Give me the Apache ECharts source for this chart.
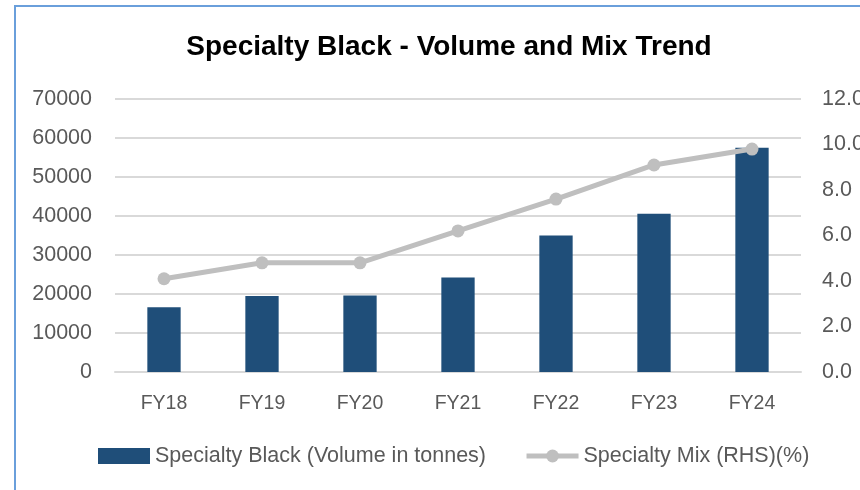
<!DOCTYPE html>
<html><head><meta charset="utf-8">
<script src="https://cdn.jsdelivr.net/npm/echarts@6/dist/echarts.min.js"></script>
<style>html,body{margin:0;padding:0;background:#fff;}#c{width:860px;height:490px;}</style>
</head><body><div id="c"></div>
<script>
const categories = ['FY18','FY19','FY20','FY21','FY22','FY23','FY24'];
const volume = [16600, 19500, 19600, 24200, 35000, 40600, 57500];
const mix = [4.1, 4.8, 4.8, 6.2, 7.6, 9.1, 9.8];
const volumeName = 'Specialty Black (Volume in tonnes)';
const mixName = 'Specialty Mix (RHS)(%)';
const titleText = 'Specialty Black - Volume and Mix Trend';

const chart = echarts.init(document.getElementById('c'), null, {renderer:'canvas'});
const font = 'Liberation Sans';
chart.setOption({
  animation:false,
  backgroundColor:'#fff',
  grid:{left:115,right:59,top:99,bottom:118,containLabel:false,outerBoundsMode:'none'},
  legend:{left:98,top:445,padding:0,itemWidth:52,itemHeight:16,itemGap:38,
    textStyle:{fontFamily:font,fontSize:21.5,color:'#595959'},
    data:[{name:volumeName,icon:'rect'},
          {name:mixName,lineStyle:{width:5,color:'#BFBFBF'},itemStyle:{color:'#BFBFBF'}}]},
  xAxis:{type:'category',data:categories,
    axisLine:{lineStyle:{color:'#D9D9D9',width:2}},axisTick:{show:false},
    axisLabel:{fontFamily:font,fontSize:19.5,color:'#595959',margin:22}},
  yAxis:[
    {type:'value',min:0,max:70000,interval:10000,
     axisLabel:{fontFamily:font,fontSize:21.5,color:'#595959',margin:23,formatter:v=>String(v)},
     splitLine:{lineStyle:{color:'#D9D9D9',width:2}},axisLine:{show:false},axisTick:{show:false}},
    {type:'value',min:0,max:12,interval:2,position:'right',
     axisLabel:{fontFamily:font,fontSize:21.5,color:'#595959',margin:21,formatter:v=>v.toFixed(1)},
     splitLine:{show:false},axisLine:{show:false},axisTick:{show:false}}
  ],
  series:[
    {name:volumeName,type:'bar',data:volume,barWidth:'34%',itemStyle:{color:'#1F4E79'}},
    {name:mixName,type:'line',yAxisIndex:1,data:mix,symbol:'circle',symbolSize:13,
     lineStyle:{color:'#BFBFBF',width:5},itemStyle:{color:'#BFBFBF'}}
  ],
  graphic:[
    {type:'polyline',shape:{points:[[15,490],[15,6],[860,6]]},
     style:{stroke:'#6A9FDB',lineWidth:2,fill:null},silent:true},
    {type:'text',x:449,y:47,silent:true,
     style:{text:titleText,align:'center',verticalAlign:'middle',
       font:'bold 28px "Liberation Sans"',fill:'#000'}}
  ]
});
</script></body></html>
